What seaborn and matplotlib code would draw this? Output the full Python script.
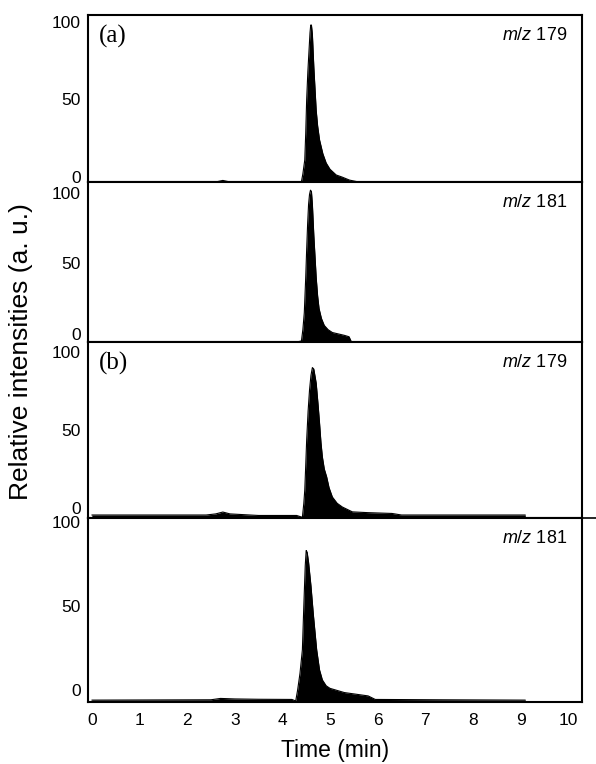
import numpy as np
import pandas as pd
import seaborn as sns
from matplotlib import pyplot as plt
from matplotlib.lines import Line2D

# Retention time (min) and relative intensity
time_a179 = [0.0, 2.60, 2.75, 2.90, 4.30, 4.40, 4.43, 4.47, 4.49, 4.51, 4.535,
             4.56, 4.58, 4.595, 4.61, 4.63, 4.66, 4.71, 4.74, 4.78, 4.85,
             4.92, 5.00, 5.13, 5.25, 5.41, 5.60, 9.10]
int_a179 = [-3.2, -3.2, -2.2, -3.2, -3.2, -3.0, 2, 11, 28, 50, 68,
            82, 93, 98, 98, 92, 71, 43, 33, 24, 15,
            9, 5, 1.3, 0, -2.0, -3.2, -3.2]

time_a181 = [0.0, 4.30, 4.40, 4.43, 4.46, 4.49, 4.51, 4.53, 4.55, 4.57, 4.59,
             4.61, 4.63, 4.66, 4.71, 4.74, 4.77, 4.82, 4.88, 4.96, 5.05,
             5.30, 5.40, 5.45, 9.10]
int_a181 = [-5.7, -5.7, -5.0, 3, 15, 40, 60, 78, 92, 99, 102,
            101, 92, 70, 40, 27, 18, 11, 6, 3, 1,
            -1, -2, -5.7, -5.7]

time_b179 = [0.0, 2.40, 2.60, 2.75, 2.90, 3.50, 4.30, 4.42, 4.45, 4.47, 4.49,
             4.51, 4.54, 4.57, 4.60, 4.63, 4.66, 4.71, 4.75, 4.78, 4.81,
             4.84, 4.88, 4.93, 4.98, 5.05, 5.15, 5.26, 5.47, 5.80, 6.30,
             6.50, 9.10]
int_b179 = [-4.5, -4.5, -3.8, -2.6, -3.8, -4.8, -4.8, -6.0, 3, 11.5, 27,
            43.6, 62, 75.6, 85, 90, 89, 80, 66, 54.5, 42,
            32.7, 25, 19.9, 13, 7, 3, 0.6, -2.5, -3.0, -3.5,
            -4.5, -4.5]

time_b181 = [0.0, 2.50, 2.70, 3.00, 3.50, 4.20, 4.28, 4.32, 4.37, 4.42, 4.45,
             4.48, 4.50, 4.52, 4.55, 4.60, 4.65, 4.72, 4.78, 4.84, 4.92,
             5.00, 5.30, 5.80, 5.95, 7.30, 9.10]
int_b181 = [-6.0, -5.8, -5.0, -5.3, -5.5, -5.6, -6.5, 0, 10, 24, 50,
            74, 83, 82, 76, 62, 45, 24, 12, 6, 2.5,
            1, -1.5, -3.5, -5.6, -5.8, -6.0]

traces = [(time_a179, int_a179), (time_a181, int_a181),
          (time_b179, int_b179), (time_b181, int_b181)]
mz_labels = ["179", "181", "179", "181"]
panel_tags = ["(a)", None, "(b)", None]
y_limits = [(-3.2, 104.5), (-5.7, 107.8), (-6.4, 106.4), (-7.1, 102.4)]
x_ticks = list(range(0, 11))

sns.set_theme(style="white")
plt.rcParams["font.family"] = ["Liberation Sans", "DejaVu Sans"]
plt.rcParams["mathtext.fontset"] = "custom"
plt.rcParams["mathtext.it"] = "Liberation Sans:italic"
plt.rcParams["mathtext.rm"] = "Liberation Sans"

fig, axes = plt.subplots(4, 1, figsize=(5.96, 7.64), dpi=100, sharex=True,
                         gridspec_kw={"height_ratios": [167, 160, 176, 184], "hspace": 0})
fig.subplots_adjust(left=0.1477, right=0.9765, top=0.9804, bottom=0.0812)

for i, ax in enumerate(axes):
    t, y = traces[i]
    df = pd.DataFrame({"time": t, "intensity": y})
    lo, hi = y_limits[i]
    sns.lineplot(data=df, x="time", y="intensity", ax=ax, color="black", lw=0.8)
    ax.fill_between(df["time"], df["intensity"], lo, color="black", lw=0)
    ax.set_ylim(lo, hi)
    ax.set_xlim(-0.08, 10.29)
    ax.set_yticks([0, 50, 100])
    ax.set_ylabel("")
    ax.set_xlabel("")
    ax.tick_params(axis="both", length=0, labelsize=12.5, pad=5, colors="black")
    for s in ax.spines.values():
        s.set_color("black")
        s.set_linewidth(1.5)
    ax.annotate(f"$m/z$ {mz_labels[i]}", xy=(0.97, 1), xycoords="axes fraction",
                xytext=(0, -21), textcoords="offset pixels", ha="right", va="center",
                fontsize=13, color="black")
    if panel_tags[i]:
        ax.annotate(panel_tags[i], xy=(0.022, 1), xycoords="axes fraction",
                    xytext=(0, -10), textcoords="offset pixels", ha="left", va="top",
                    fontsize=18, family="Liberation Serif", color="black")

axes[-1].set_xticks(x_ticks)
axes[-1].tick_params(axis="x", pad=8)
axes[-1].set_xlabel("Time (min)", fontsize=16.5, color="black", labelpad=8)

fig.text(0.036, 0.54, "Relative intensities (a. u.)", rotation=90, ha="center", va="center",
         fontsize=19, color="black")

# the (b) divider runs past the frame to the page edge
fig.add_artist(Line2D([0.9765, 1.0], [1 - 518 / 764] * 2, color="black", lw=1.2))

fig.savefig("out.png", dpi=100, facecolor="white")
